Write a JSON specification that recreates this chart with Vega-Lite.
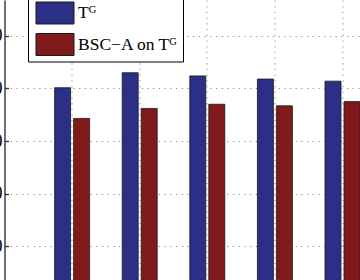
{
  "$schema": "https://vega.github.io/schema/vega-lite/v6.json",
  "autosize": "none",
  "padding": {"left": 4.5, "top": 0, "right": 0, "bottom": 0},
  "width": 355.5,
  "height": 280,
  "background": "white",
  "config": {
    "view": {"stroke": null},
    "font": "Liberation Serif"
  },
  "data": {
    "values": [
      {"g": "1", "s": "Tᴳ", "v": 80.15},
      {"g": "1", "s": "BSC−A on Tᴳ", "v": 74.3},
      {"g": "2", "s": "Tᴳ", "v": 83.0},
      {"g": "2", "s": "BSC−A on Tᴳ", "v": 76.2},
      {"g": "3", "s": "Tᴳ", "v": 82.4},
      {"g": "3", "s": "BSC−A on Tᴳ", "v": 77.0},
      {"g": "4", "s": "Tᴳ", "v": 81.8},
      {"g": "4", "s": "BSC−A on Tᴳ", "v": 76.7},
      {"g": "5", "s": "Tᴳ", "v": 81.4},
      {"g": "5", "s": "BSC−A on Tᴳ", "v": 77.5}
    ]
  },
  "mark": {"type": "bar", "clip": true, "stroke": "#1a1a1a", "strokeWidth": 0.8},
  "encoding": {
    "x": {
      "field": "g",
      "type": "ordinal",
      "scale": {"range": [0, 405.6], "paddingInner": 0.482, "paddingOuter": 0.741},
      "axis": {
        "title": null,
        "labels": false,
        "ticks": false,
        "domain": false,
        "grid": true,
        "bandPosition": 0.5,
        "gridColor": "#8a8a8a",
        "gridDash": [1.2, 4.5],
        "gridWidth": 1
      }
    },
    "xOffset": {
      "field": "s",
      "type": "nominal",
      "scale": {"domain": ["Tᴳ", "BSC−A on Tᴳ"], "paddingInner": 0.158, "paddingOuter": 0}
    },
    "y": {
      "field": "v",
      "type": "quantitative",
      "scale": {"domain": [43.524, 96.857], "nice": false, "zero": false},
      "axis": {
        "title": null,
        "values": [50, 60, 70, 80, 90],
        "grid": true,
        "gridColor": "#8a8a8a",
        "gridDash": [1.2, 4.5],
        "gridWidth": 1,
        "domainColor": "#333333",
        "domainWidth": 1.4,
        "tickColor": "#333333",
        "tickSize": -4,
        "tickWidth": 1.4,
        "labelPadding": 6.5,
        "labelFont": "Liberation Serif",
        "labelFontSize": 18,
        "labelColor": "#000000"
      }
    },
    "color": {
      "field": "s",
      "type": "nominal",
      "scale": {"domain": ["Tᴳ", "BSC−A on Tᴳ"], "range": ["#2b2f85", "#801a1d"]},
      "legend": {
        "title": null,
        "orient": "none",
        "legendX": 23.5,
        "legendY": -2.5,
        "symbolType": "M-0.682,-1.0 L2.773,-1.0 L2.773,1.0 L-0.682,1.0 Z",
        "symbolSize": 484,
        "symbolStrokeWidth": 1,
        "symbolStrokeColor": "#1a1a1a",
        "symbolOpacity": 1,
        "labelFont": "Liberation Serif",
        "labelFontSize": 17.5,
        "labelColor": "#000000",
        "labelOffset": 23,
        "labelLimit": 0,
        "padding": 4,
        "rowPadding": 4.5,
        "strokeColor": "#000000",
        "fillColor": "#ffffff",
        "cornerRadius": 0
      }
    }
  }
}
